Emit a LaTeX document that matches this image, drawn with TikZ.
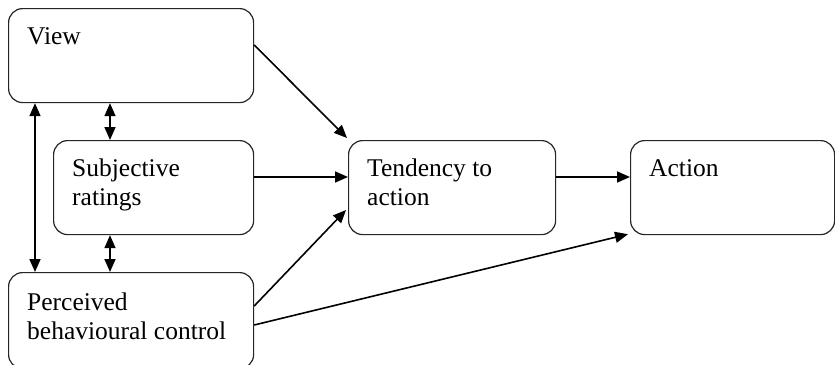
\documentclass[tikz,border=0pt]{standalone}
\usepackage{fontspec}
\setmainfont{Liberation Serif}
\usetikzlibrary{arrows.meta}
\begin{document}
\begin{tikzpicture}[x=1pt,y=-1pt,
  box/.style={draw=black!85, line width=1.2pt, rounded corners=14pt, anchor=north west, inner sep=0pt},
  lbl/.style={anchor=north west, inner sep=0pt, align=left, font=\fontsize{25.5}{28.5}\selectfont},
  arr/.style={-{Triangle[length=13pt,width=11pt]}, line width=1.6pt},
  darr/.style={{Triangle[length=13pt,width=11pt]}-{Triangle[length=13pt,width=11pt]}, line width=1.6pt}]
\useasboundingbox[fill=white] (0,0) rectangle (835,364);
% boxes
\node[box, minimum width=245pt, minimum height=94pt] (view) at (8,8) {};
\node[box, minimum width=200pt, minimum height=94pt] (subj) at (53,140) {};
\node[box, minimum width=245pt, minimum height=96pt] (perc) at (8,272) {};
\node[box, minimum width=207pt, minimum height=94pt] (tend) at (348,140) {};
\node[box, minimum width=204pt, minimum height=94pt] (act) at (630,140) {};
% labels
\node[lbl] (viewt) at ([shift={(19,19)}]view.north west) {View};
\node[lbl] (subjt) at ([shift={(19,19)}]subj.north west) {Subjective\\ratings};
\node[lbl] (perct) at ([shift={(19,21)}]perc.north west) {Perceived\\behavioural control};
\node[lbl] (tendt) at ([shift={(19,19)}]tend.north west) {Tendency to\\action};
\node[lbl] (actt) at ([shift={(19,19)}]act.north west) {Action};
% connectors
\draw[arr] ([shift={(0,37)}]view.north east) -- ([shift={(-1,-2)}]tend.north west);
\draw[arr] ([shift={(0,37)}]subj.north east) -- ([shift={(0,37)}]tend.north west);
\draw[arr] ([shift={(0,37)}]tend.north east) -- ([shift={(0,37)}]act.north west);
\draw[arr] ([shift={(0,34)}]perc.north east) -- ([shift={(-2,70)}]tend.north west);
\draw[arr] ([shift={(0,53)}]perc.north east) -- ([shift={(-2,-1)}]act.south west);
\draw[darr] ([xshift=27pt]view.south west) -- ([xshift=27pt]perc.north west);
\draw[darr] ([xshift=102pt]view.south west) -- ([xshift=57pt]subj.north west);
\draw[darr] ([xshift=57pt]subj.south west) -- ([xshift=102pt]perc.north west);
\end{tikzpicture}
\end{document}
